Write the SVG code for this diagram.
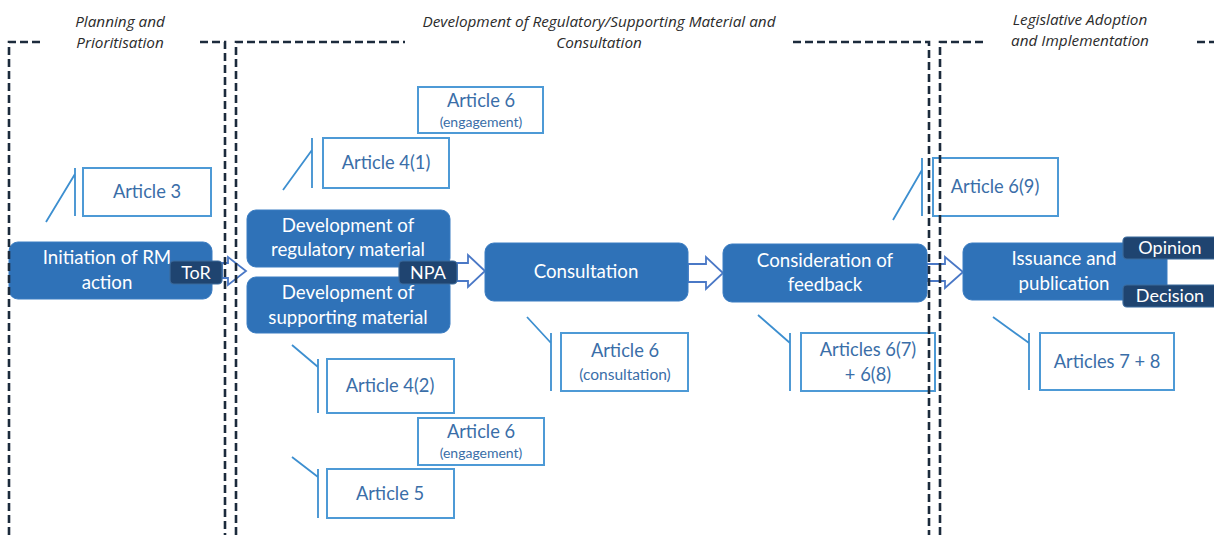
<svg xmlns="http://www.w3.org/2000/svg" width="1214" height="535" viewBox="0 0 1214 535">
<style>
.phase{font-family:"Open Sans","Liberation Sans",sans-serif;font-style:italic;font-size:15.3px;fill:#2b2b2b;text-anchor:middle}
.dash{fill:none;stroke:#1c2b3c;stroke-width:2.6;stroke-dasharray:8 4}
.node{fill:#2f72b8;stroke:#3a7cc2;stroke-width:1}
.ntext{font-family:Lato,"Liberation Sans",sans-serif;font-size:18.7px;fill:#ffffff;text-anchor:middle}
.tag{fill:#1f4470;stroke:#3b6a9c;stroke-width:1.2}
.ttext{font-family:Lato,"Liberation Sans",sans-serif;font-size:18px;fill:#ffffff;text-anchor:middle}
.art{fill:#ffffff;stroke:#4d9ad6;stroke-width:2}
.atext{font-family:Lato,"Liberation Sans",sans-serif;font-size:18.3px;fill:#3a6ea8;text-anchor:middle}
.asmall{font-family:Lato,"Liberation Sans",sans-serif;font-size:14px;fill:#3a6ea8;text-anchor:middle}
.call{fill:none;stroke:#3d8fd0;stroke-width:1.8}
.harrow{fill:#ffffff;stroke:#4a78c6;stroke-width:1.8;stroke-linejoin:miter}
</style>

<g id="phases">
  <text class="phase" x="120" y="27">Planning and</text>
  <text class="phase" x="120" y="48">Prioritisation</text>
  <text class="phase" x="599" y="27">Development of Regulatory/Supporting Material and</text>
  <text class="phase" x="599" y="48">Consultation</text>
  <text class="phase" x="1080" y="25">Legislative Adoption</text>
  <text class="phase" x="1080" y="46">and Implementation</text>
</g>

<g id="connectors">
  <path class="harrow" d="M222,263 H228 V257 L246,271 L228,285 V278 H222 Z"/>
  <path class="harrow" d="M457,263 H468 V255 L485,271 L468,287 V281 H457 Z"/>
  <path class="harrow" d="M688,264 H706 V257 L723,273 L706,289 V282 H688 Z"/>
  <path class="harrow" d="M927,264 H945 V257 L963,272 L945,288 V281 H927 Z"/>
</g>

<g id="callouts">
  <path class="call" d="M75,168 V216 M46,222 L75,174"/>
  <path class="call" d="M312,138 V188 M283,190 L312,150"/>
  <path class="call" d="M318,359 V413 M292,345 L318,367"/>
  <path class="call" d="M318,469 V518 M292,457 L318,477"/>
  <path class="call" d="M551,333 V391 M527,317 L551,343"/>
  <path class="call" d="M790,333 V391 M758,315 L790,343"/>
  <path class="call" d="M922,158 V216 M893,220 L922,170"/>
  <path class="call" d="M1029,333 V390 M993,317 L1029,343"/>
</g>

<g id="node-initiation">
  <rect class="node" x="9" y="242" width="203" height="57" rx="9"/>
  <text class="ntext" x="107" y="264">Initiation of RM</text>
  <text class="ntext" x="107" y="289">action</text>
</g>
<g id="node-dev-regulatory">
  <rect class="node" x="247" y="210" width="203" height="57" rx="9"/>
  <text class="ntext" x="348" y="232">Development of</text>
  <text class="ntext" x="348" y="256">regulatory material</text>
</g>
<g id="node-dev-supporting">
  <rect class="node" x="247" y="277" width="203" height="56" rx="9"/>
  <text class="ntext" x="348" y="299">Development of</text>
  <text class="ntext" x="348" y="324">supporting material</text>
</g>
<g id="node-consultation">
  <rect class="node" x="485" y="243" width="203" height="58" rx="9"/>
  <text class="ntext" x="586" y="278">Consultation</text>
</g>
<g id="node-feedback">
  <rect class="node" x="723" y="244" width="204" height="58" rx="9"/>
  <text class="ntext" x="825" y="267">Consideration of</text>
  <text class="ntext" x="825" y="291">feedback</text>
</g>
<g id="node-issuance">
  <path class="node" d="M972,243 H1167 V300 H972 A9,9 0 0 1 963,291 V252 A9,9 0 0 1 972,243 Z"/>
  <text class="ntext" x="1064" y="265">Issuance and</text>
  <text class="ntext" x="1064" y="290">publication</text>
</g>

<g id="tag-tor">
  <rect class="tag" x="170" y="261" width="52" height="23" rx="4"/>
  <text class="ttext" x="196" y="279">ToR</text>
</g>
<g id="tag-npa">
  <rect class="tag" x="399" y="261" width="58" height="23" rx="4"/>
  <text class="ttext" x="428" y="279">NPA</text>
</g>
<g id="tag-opinion">
  <rect class="tag" x="1123" y="237" width="100" height="22" rx="4"/>
  <text class="ttext" x="1170" y="254">Opinion</text>
</g>
<g id="tag-decision">
  <rect class="tag" x="1123" y="285" width="100" height="22" rx="4"/>
  <text class="ttext" x="1170" y="302">Decision</text>
</g>

<g id="art-3">
  <rect class="art" x="83" y="168" width="128" height="48"/>
  <text class="atext" x="147" y="198">Article 3</text>
</g>
<g id="art-4-1">
  <rect class="art" x="323" y="138" width="126" height="50"/>
  <text class="atext" x="386" y="169">Article 4(1)</text>
</g>
<g id="art-6-engagement-top">
  <rect class="art" x="418" y="87" width="125" height="46"/>
  <text class="atext" x="481" y="107">Article 6</text>
  <text class="asmall" x="481" y="127">(engagement)</text>
</g>
<g id="art-4-2">
  <rect class="art" x="327" y="359" width="127" height="54"/>
  <text class="atext" x="390" y="392">Article 4(2)</text>
</g>
<g id="art-6-engagement-bottom">
  <rect class="art" x="418" y="418" width="126" height="47"/>
  <text class="atext" x="481" y="438">Article 6</text>
  <text class="asmall" x="481" y="458">(engagement)</text>
</g>
<g id="art-5">
  <rect class="art" x="327" y="469" width="127" height="49"/>
  <text class="atext" x="390" y="500">Article 5</text>
</g>
<g id="art-6-consultation">
  <rect class="art" x="561" y="333" width="127" height="58"/>
  <text class="atext" x="625" y="357">Article 6</text>
  <text class="asmall" x="625" y="380" style="font-size:15.5px">(consultation)</text>
</g>
<g id="art-6-7-8">
  <rect class="art" x="801" y="333" width="134" height="58"/>
  <text class="atext" x="868" y="356">Articles 6(7)</text>
  <text class="atext" x="868" y="381">+ 6(8)</text>
</g>
<g id="art-6-9">
  <rect class="art" x="933" y="158" width="125" height="58"/>
  <text class="atext" x="995" y="193">Article 6(9)</text>
</g>
<g id="art-7-8">
  <rect class="art" x="1040" y="333" width="134" height="57"/>
  <text class="atext" x="1107" y="368">Articles 7 + 8</text>
</g>

<g id="phase-borders">
  <path class="dash" d="M9,535 V42 H42 M200,42 H225 V535"/>
  <path class="dash" d="M236,535 V42 H405 M793,42 H929 V535"/>
  <path class="dash" d="M940,535 V42 H987 M1197,42 H1214"/>
</g>
</svg>
